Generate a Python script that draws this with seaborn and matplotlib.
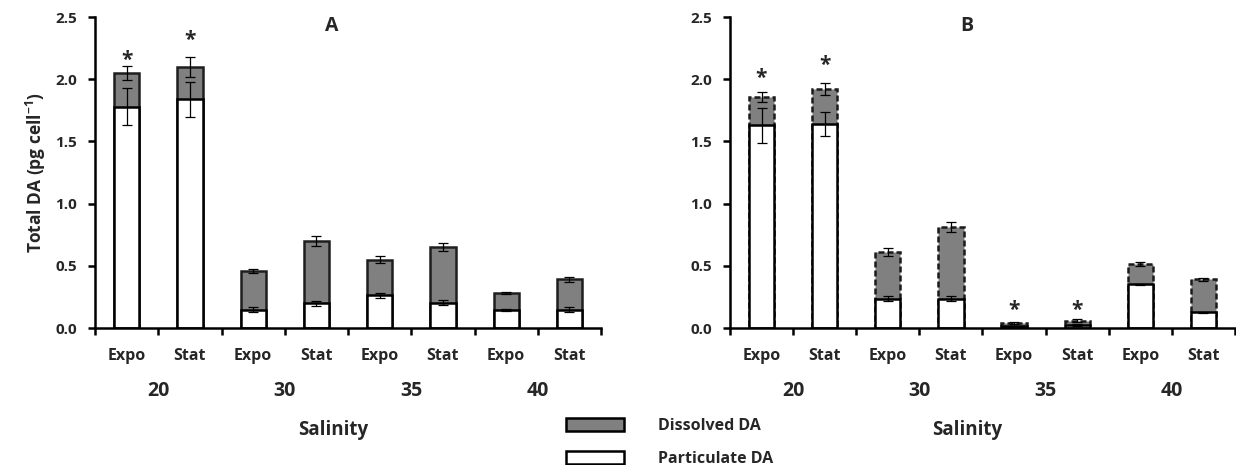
import matplotlib
matplotlib.use("Agg")
import matplotlib.pyplot as plt
import numpy as np
import pandas as pd
import seaborn as sns
from matplotlib.patches import Patch

# ---- data -------------------------------------------------------------
salinity = ["20", "30", "35", "40"]
phases = ["Expo", "Stat"]

# Panel A
a_particulate = [1.78, 1.84, 0.145, 0.20, 0.265, 0.205, 0.145, 0.145]
a_dissolved = [0.27, 0.26, 0.315, 0.50, 0.285, 0.445, 0.135, 0.245]
a_particulate_err = [0.15, 0.14, 0.02, 0.02, 0.02, 0.02, 0.005, 0.02]
a_total_err = [0.06, 0.08, 0.015, 0.04, 0.03, 0.03, 0.008, 0.02]

# Panel B
b_particulate = [1.63, 1.64, 0.235, 0.235, 0.015, 0.025, 0.35, 0.125]
b_dissolved = [0.23, 0.28, 0.375, 0.575, 0.025, 0.035, 0.165, 0.265]
b_particulate_err = [0.14, 0.10, 0.02, 0.02, 0.005, 0.005, 0.005, 0.005]
b_total_err = [0.04, 0.05, 0.03, 0.04, 0.005, 0.01, 0.018, 0.015]

# significance markers: bar index -> height of the asterisk centre
a_stars = {0: 2.21, 1: 2.37}
b_stars = {0: 2.06, 1: 2.17, 4: 0.20, 5: 0.20}

# ---- style ------------------------------------------------------------
sns.set_style("ticks")
FONT = "Open Sans"
plt.rcParams["font.family"] = [FONT, "DejaVu Sans"]
plt.rcParams["font.weight"] = "bold"
plt.rcParams["mathtext.fontset"] = "custom"
plt.rcParams["mathtext.rm"] = f"{FONT}:bold"
plt.rcParams["mathtext.it"] = f"{FONT}:bold"
plt.rcParams["mathtext.bf"] = f"{FONT}:bold"

DISSOLVED = "#808080"
LW = 1.8

fig = plt.figure(figsize=(12.36, 4.65), dpi=100)
ax_a = fig.add_axes([0.0769, 0.2946, 0.4094, 0.6688])
ax_b = fig.add_axes([0.5906, 0.2946, 0.4086, 0.6688])


def build_frame(particulate, dissolved):
    keys = [f"{s} {p}" for s in salinity for p in phases]
    df = pd.DataFrame({"key": keys,
                       "particulate": particulate,
                       "dissolved": dissolved})
    df["total"] = df["particulate"] + df["dissolved"]
    return df


def draw_panel(ax, particulate, dissolved, part_err, total_err, stars,
               title, dashed):
    df = build_frame(particulate, dissolved)
    order = list(df["key"])

    # stacked bars: full height in grey, particulate part in white on top
    sns.barplot(data=df, x="key", y="total", order=order, color=DISSOLVED,
                saturation=1, width=0.4, edgecolor="#1e1e1e", linewidth=LW,
                errorbar=None, ax=ax)
    n_grey = len(ax.patches)
    if dashed:
        for p in ax.patches[:n_grey]:
            p.set_linestyle((0, (2.4, 1.2)))
            p.set_edgecolor("#1a1a1a")
    sns.barplot(data=df, x="key", y="particulate", order=order, color="white",
                saturation=1, width=0.4, edgecolor="black", linewidth=LW,
                errorbar=None, ax=ax)

    x = np.arange(len(order))
    ax.errorbar(x, df["particulate"], yerr=part_err, fmt="none",
                ecolor="black", elinewidth=0.9, capsize=3.5, capthick=0.9,
                zorder=5)
    ax.errorbar(x, df["total"], yerr=total_err, fmt="none",
                ecolor="black", elinewidth=0.9, capsize=3.5, capthick=0.9,
                zorder=5)

    for i, yc in stars.items():
        ax.text(i, yc - 0.10, "*", ha="center", va="baseline",
                fontsize=15, fontweight="bold")

    ax.set_xlim(-0.5, len(order) - 0.5)
    ax.set_ylim(0, 2.5)
    ax.set_yticks(np.arange(0, 2.51, 0.5))
    ax.set_yticklabels([f"{v:.1f}" for v in np.arange(0, 2.51, 0.5)],
                       fontsize=11, fontweight="bold")
    ax.set_xticks(np.arange(-0.5, len(order), 1.0))
    ax.set_xticklabels([])
    ax.tick_params(axis="both", direction="out", length=5, width=LW,
                   color="black")
    ax.tick_params(axis="y", pad=8)
    for side in ("top", "right"):
        ax.spines[side].set_visible(False)
    for side in ("left", "bottom"):
        ax.spines[side].set_linewidth(LW)
        ax.spines[side].set_color("black")
    ax.set_xlabel("")
    ax.set_ylabel("")

    tr = ax.get_xaxis_transform()
    for i, key in enumerate(order):
        ax.text(i, -0.09, key.split()[1], transform=tr, ha="center",
                va="center", fontsize=11.5, fontweight="bold")
    for g, s in enumerate(salinity):
        ax.text(2 * g + 0.5, -0.203, s, transform=tr, ha="center",
                va="center", fontsize=14, fontweight="bold")
    ax.text(3.26, -0.327, "Salinity", transform=tr, ha="center",
            va="center", fontsize=13.5, fontweight="bold")
    ax.text(3.25, 2.43, title, ha="center", va="center", fontsize=14,
            fontweight="bold")


draw_panel(ax_a, a_particulate, a_dissolved, a_particulate_err, a_total_err,
           a_stars, "A", dashed=False)
draw_panel(ax_b, b_particulate, b_dissolved, b_particulate_err, b_total_err,
           b_stars, "B", dashed=True)

ax_a.set_ylabel(r"Total DA (pg cell$^{-1}$)", fontsize=12.5,
                fontweight="bold", labelpad=5)

handles = [
    Patch(facecolor=DISSOLVED, edgecolor="black", linewidth=LW,
          label="Dissolved DA"),
    Patch(facecolor="white", edgecolor="black", linewidth=LW,
          label="Particulate DA"),
]
fig.legend(handles=handles, loc="upper left",
           bbox_to_anchor=(566 / 1236, 1 - 418 / 465), frameon=False,
           handlelength=3.66, handleheight=0.9,
           handletextpad=2.1, labelspacing=1.05, borderpad=0,
           borderaxespad=0, prop={"weight": "bold", "size": 11.5})

fig.savefig("out.png", dpi=100)
